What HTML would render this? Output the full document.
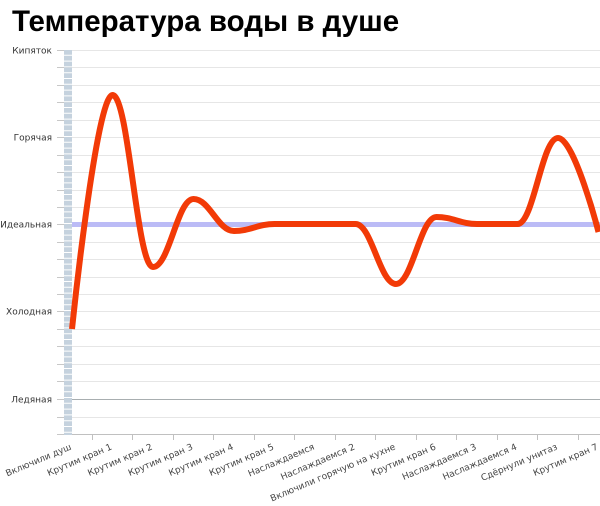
<!DOCTYPE html>
<html>
<head>
<meta charset="utf-8">
<style>
  html,body{margin:0;padding:0;background:#fff;}
  svg{display:block;}
  .yl{font-family:"DejaVu Sans","Liberation Sans",sans-serif;font-size:9px;fill:#333;}
  .xl{font-family:"DejaVu Sans","Liberation Sans",sans-serif;font-size:9px;fill:#444;}
</style>
</head>
<body>
<svg width="600" height="506" viewBox="0 0 600 506" xmlns="http://www.w3.org/2000/svg">
  <text x="12" y="31" font-family="Liberation Sans, sans-serif" font-weight="bold" font-size="29.5" fill="#000">Температура воды в душе</text>

  <!-- gridlines -->
  <g stroke="#e6e6e6" stroke-width="1">
    <line x1="64" y1="50.5" x2="600" y2="50.5"/>
    <line x1="64" y1="67.5" x2="600" y2="67.5"/>
    <line x1="64" y1="85.5" x2="600" y2="85.5"/>
    <line x1="64" y1="102.5" x2="600" y2="102.5"/>
    <line x1="64" y1="120.5" x2="600" y2="120.5"/>
    <line x1="64" y1="137.5" x2="600" y2="137.5"/>
    <line x1="64" y1="155.5" x2="600" y2="155.5"/>
    <line x1="64" y1="172.5" x2="600" y2="172.5"/>
    <line x1="64" y1="190.5" x2="600" y2="190.5"/>
    <line x1="64" y1="207.5" x2="600" y2="207.5"/>
    <line x1="64" y1="224.5" x2="600" y2="224.5"/>
    <line x1="64" y1="242.5" x2="600" y2="242.5"/>
    <line x1="64" y1="259.5" x2="600" y2="259.5"/>
    <line x1="64" y1="277.5" x2="600" y2="277.5"/>
    <line x1="64" y1="294.5" x2="600" y2="294.5"/>
    <line x1="64" y1="311.5" x2="600" y2="311.5"/>
    <line x1="64" y1="329.5" x2="600" y2="329.5"/>
    <line x1="64" y1="346.5" x2="600" y2="346.5"/>
    <line x1="64" y1="364.5" x2="600" y2="364.5"/>
    <line x1="64" y1="381.5" x2="600" y2="381.5"/>
    <line x1="64" y1="417.5" x2="600" y2="417.5"/>
  </g>
  <!-- y ticks -->
  <g stroke="#c8c8c8" stroke-width="1">
    <line x1="57" y1="50.5" x2="64" y2="50.5"/>
    <line x1="57" y1="67.5" x2="64" y2="67.5"/>
    <line x1="57" y1="85.5" x2="64" y2="85.5"/>
    <line x1="57" y1="102.5" x2="64" y2="102.5"/>
    <line x1="57" y1="120.5" x2="64" y2="120.5"/>
    <line x1="57" y1="137.5" x2="64" y2="137.5"/>
    <line x1="57" y1="155.5" x2="64" y2="155.5"/>
    <line x1="57" y1="172.5" x2="64" y2="172.5"/>
    <line x1="57" y1="190.5" x2="64" y2="190.5"/>
    <line x1="57" y1="207.5" x2="64" y2="207.5"/>
    <line x1="57" y1="224.5" x2="64" y2="224.5"/>
    <line x1="57" y1="242.5" x2="64" y2="242.5"/>
    <line x1="57" y1="259.5" x2="64" y2="259.5"/>
    <line x1="57" y1="277.5" x2="64" y2="277.5"/>
    <line x1="57" y1="294.5" x2="64" y2="294.5"/>
    <line x1="57" y1="311.5" x2="64" y2="311.5"/>
    <line x1="57" y1="329.5" x2="64" y2="329.5"/>
    <line x1="57" y1="346.5" x2="64" y2="346.5"/>
    <line x1="57" y1="364.5" x2="64" y2="364.5"/>
    <line x1="57" y1="381.5" x2="64" y2="381.5"/>
    <line x1="57" y1="399.5" x2="64" y2="399.5"/>
    <line x1="57" y1="417.5" x2="64" y2="417.5"/>
    <line x1="57" y1="434.5" x2="64" y2="434.5"/>
  </g>

  <!-- Ледяная plot line -->
  <line x1="64" y1="399.5" x2="600" y2="399.5" stroke="#a8aeb0" stroke-width="1"/>
  <!-- x axis -->
  <line x1="64" y1="434.5" x2="600" y2="434.5" stroke="#c0c0c0" stroke-width="1"/>
  <g stroke="#c0c0c0" stroke-width="1">
    <line x1="92.5" y1="435" x2="92.5" y2="440"/>
    <line x1="132.5" y1="435" x2="132.5" y2="440"/>
    <line x1="173.5" y1="435" x2="173.5" y2="440"/>
    <line x1="213.5" y1="435" x2="213.5" y2="440"/>
    <line x1="254.5" y1="435" x2="254.5" y2="440"/>
    <line x1="294.5" y1="435" x2="294.5" y2="440"/>
    <line x1="335.5" y1="435" x2="335.5" y2="440"/>
    <line x1="375.5" y1="435" x2="375.5" y2="440"/>
    <line x1="416.5" y1="435" x2="416.5" y2="440"/>
    <line x1="456.5" y1="435" x2="456.5" y2="440"/>
    <line x1="497.5" y1="435" x2="497.5" y2="440"/>
    <line x1="537.5" y1="435" x2="537.5" y2="440"/>
    <line x1="578.5" y1="435" x2="578.5" y2="440"/>
  </g>

  <!-- dashed vertical bar -->
  <line x1="68" y1="50" x2="68" y2="435" stroke="#c5d2de" stroke-width="8" stroke-dasharray="4.8 1"/>

  <!-- Идеальная plot line -->
  <line x1="72" y1="224.5" x2="600" y2="224.5" stroke="#bbbbf6" stroke-width="5"/>

  <!-- series -->
  <path d="M72,329 C72,329 96.3,95 112.5,95 C128.7,95 136.8,267 153,267 C169.2,267 177.3,199 193.5,199 C209.7,199 217.8,231 234,231 C250.2,231 258.3,224 274.5,224 L355.5,224 C371.7,224 379.8,284 396,284 C412.2,284 420.3,217 436.5,217 C452.7,217 460.8,224 477,224 L517.5,224 C533.7,224 541.8,138 558,138 C574.2,138 598.5,232 598.5,232"
        fill="none" stroke="#f23a07" stroke-width="6" stroke-linejoin="round"/>

  <!-- y labels -->
  <text class="yl" x="52" y="53.5" text-anchor="end">Кипяток</text>
  <text class="yl" x="52" y="140.5" text-anchor="end">Горячая</text>
  <text class="yl" x="52" y="227.5" text-anchor="end">Идеальная</text>
  <text class="yl" x="52" y="314.5" text-anchor="end">Холодная</text>
  <text class="yl" x="52" y="402.5" text-anchor="end">Ледяная</text>

  <!-- x labels -->
  <text class="xl" x="72" y="449" text-anchor="end" transform="rotate(-23 72 449)">Включили душ</text>
  <text class="xl" x="112.5" y="449" text-anchor="end" transform="rotate(-23 112.5 449)">Крутим кран 1</text>
  <text class="xl" x="153" y="449" text-anchor="end" transform="rotate(-23 153 449)">Крутим кран 2</text>
  <text class="xl" x="193.5" y="449" text-anchor="end" transform="rotate(-23 193.5 449)">Крутим кран 3</text>
  <text class="xl" x="234" y="449" text-anchor="end" transform="rotate(-23 234 449)">Крутим кран 4</text>
  <text class="xl" x="274.5" y="449" text-anchor="end" transform="rotate(-23 274.5 449)">Крутим кран 5</text>
  <text class="xl" x="315" y="449" text-anchor="end" transform="rotate(-23 315 449)">Наслаждаемся</text>
  <text class="xl" x="355.5" y="449" text-anchor="end" transform="rotate(-23 355.5 449)">Наслаждаемся 2</text>
  <text class="xl" x="396" y="449" text-anchor="end" transform="rotate(-23 396 449)">Включили горячую на кухне</text>
  <text class="xl" x="436.5" y="449" text-anchor="end" transform="rotate(-23 436.5 449)">Крутим кран 6</text>
  <text class="xl" x="477" y="449" text-anchor="end" transform="rotate(-23 477 449)">Наслаждаемся 3</text>
  <text class="xl" x="517.5" y="449" text-anchor="end" transform="rotate(-23 517.5 449)">Наслаждаемся 4</text>
  <text class="xl" x="558" y="449" text-anchor="end" transform="rotate(-23 558 449)">Сдёрнули унитаз</text>
  <text class="xl" x="598.5" y="449" text-anchor="end" transform="rotate(-23 598.5 449)">Крутим кран 7</text>
</svg>
</body>
</html>
